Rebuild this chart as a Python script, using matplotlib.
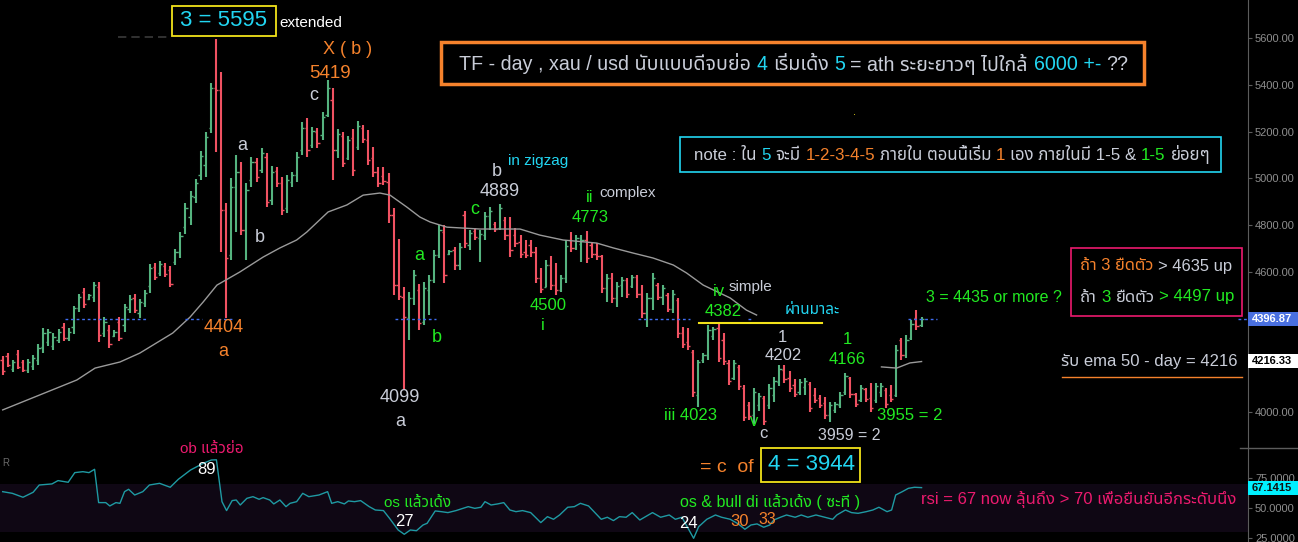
import numpy as np
import matplotlib
matplotlib.use("Agg")
import matplotlib.pyplot as plt
from matplotlib import font_manager, transforms
from matplotlib.ft2font import FT2Font
from matplotlib.patches import Rectangle
from matplotlib.lines import Line2D
from matplotlib.ticker import FormatStrFormatter

W, H = 1298, 542

# daily bars
opens = np.array([
    4223, 4240, 4184, 4248, 4214, 4180, 4197, 4223, 4278, 4300,
    4282, 4308, 4364, 4317, 4364, 4445, 4513, 4483, 4492, 4535,
    4338, 4351, 4325, 4385, 4372, 4441, 4488, 4424, 4466, 4539,
    4620, 4595, 4625, 4608, 4642, 4685, 4791, 4834, 4920, 5014,
    5057, 5215, 5386, 5378, 4864, 4672, 4963, 5027, 4779, 4993,
    5070, 5035, 5091, 4907, 5031, 4980, 4873, 4984, 5014, 5121,
    5215, 5142, 5198, 5185, 5271, 5335, 5121, 5181, 5087, 5172,
    5134, 5215, 5164, 5087, 5027, 5010, 4984, 4843, 4543, 4492,
    4402, 4488, 4522, 4385, 4522, 4565, 4672, 4770, 4676, 4693,
    4629, 4843, 4714, 4774, 4744, 4757, 4839, 4804, 4787, 4821,
    4757, 4757, 4727, 4685, 4714, 4685, 4573, 4535, 4629, 4543,
    4522, 4573, 4736, 4702, 4719, 4736, 4714, 4676, 4667, 4531,
    4573, 4488, 4543, 4565, 4539, 4578, 4505, 4424, 4488, 4543,
    4492, 4501, 4441, 4479, 4338, 4300, 4257, 4073, 4223, 4244,
    4325, 4359, 4308, 4210, 4145, 4193, 4103, 4030, 3987, 4030,
    4060, 4030, 4073, 4128, 4180, 4145, 4116, 4086, 4107, 4120,
    4073, 4060, 4039, 3987, 4009, 4030, 4086, 4145, 4077, 4051,
    4099, 4060, 4051, 4086, 4094, 4073, 4073, 4308, 4244, 4317,
    4402, 4372])
highs = np.array([
    4240, 4252, 4223, 4265, 4223, 4227, 4244, 4291, 4359, 4355,
    4338, 4355, 4381, 4359, 4454, 4505, 4531, 4505, 4556, 4556,
    4406, 4372, 4351, 4406, 4462, 4501, 4505, 4483, 4522, 4633,
    4637, 4646, 4637, 4625, 4697, 4770, 4894, 4946, 4997, 5117,
    5198, 5407, 5595, 5455, 4894, 5001, 5100, 5070, 4980, 5091,
    5087, 5130, 5108, 5052, 5048, 5005, 5014, 5027, 5112, 5241,
    5258, 5219, 5215, 5283, 5419, 5386, 5211, 5198, 5181, 5211,
    5245, 5228, 5206, 5134, 5048, 5048, 5022, 4873, 4740, 4535,
    4513, 4608, 4548, 4556, 4586, 4693, 4800, 4800, 4693, 4706,
    4723, 4860, 4779, 4787, 4779, 4856, 4877, 4813, 4889, 4834,
    4834, 4787, 4757, 4736, 4736, 4706, 4616, 4650, 4667, 4637,
    4586, 4736, 4770, 4757, 4757, 4773, 4727, 4723, 4672, 4590,
    4595, 4556, 4578, 4573, 4586, 4586, 4543, 4509, 4595, 4552,
    4543, 4509, 4522, 4488, 4364, 4359, 4265, 4223, 4252, 4372,
    4364, 4382, 4338, 4223, 4223, 4201, 4116, 4043, 4103, 4081,
    4069, 4120, 4150, 4202, 4201, 4175, 4141, 4141, 4145, 4128,
    4103, 4073, 4064, 4043, 4043, 4086, 4166, 4150, 4081, 4116,
    4103, 4124, 4124, 4124, 4103, 4116, 4287, 4317, 4329, 4394,
    4436, 4406])
lows = np.array([
    4158, 4193, 4171, 4184, 4171, 4167, 4180, 4201, 4252, 4282,
    4265, 4295, 4304, 4304, 4334, 4428, 4445, 4479, 4471, 4300,
    4321, 4274, 4321, 4304, 4342, 4424, 4424, 4402, 4449, 4509,
    4565, 4582, 4578, 4535, 4629, 4659, 4762, 4800, 4894, 4993,
    5005, 5194, 5112, 4685, 4404, 4650, 4770, 4757, 4650, 4963,
    4984, 5022, 4877, 4886, 4963, 4843, 4851, 4963, 4984, 5100,
    5091, 5130, 5130, 5164, 5262, 4993, 5087, 5048, 5078, 5010,
    5121, 5151, 5057, 5005, 4963, 4971, 4809, 4501, 4479, 4099,
    4308, 4458, 4351, 4372, 4415, 4552, 4659, 4552, 4672, 4608,
    4608, 4702, 4693, 4736, 4642, 4736, 4779, 4770, 4779, 4736,
    4663, 4706, 4659, 4659, 4663, 4552, 4509, 4535, 4522, 4500,
    4513, 4552, 4685, 4693, 4642, 4637, 4659, 4650, 4509, 4471,
    4466, 4449, 4492, 4488, 4531, 4488, 4402, 4364, 4436, 4479,
    4458, 4428, 4424, 4317, 4274, 4265, 4064, 4023, 4210, 4223,
    4308, 4214, 4201, 4116, 4137, 4094, 3962, 3966, 3949, 4004,
    3944, 4013, 4043, 4111, 4124, 4086, 4064, 4073, 4073, 4000,
    4039, 4017, 3970, 3959, 3996, 4017, 4073, 4060, 4022, 4043,
    4043, 4000, 4039, 4064, 4017, 4043, 4064, 4223, 4231, 4308,
    4351, 4364])
closes = np.array([
    4175, 4201, 4214, 4193, 4180, 4214, 4231, 4274, 4338, 4342,
    4321, 4342, 4317, 4342, 4445, 4492, 4462, 4501, 4543, 4329,
    4385, 4291, 4342, 4317, 4449, 4483, 4436, 4471, 4509, 4616,
    4578, 4633, 4590, 4548, 4685, 4753, 4873, 4924, 4980, 5095,
    5177, 5386, 5378, 4864, 4659, 4963, 5027, 4779, 4950, 5070,
    5005, 5108, 4898, 5027, 4980, 4864, 4993, 5014, 5091, 5215,
    5121, 5202, 5151, 5262, 5386, 5121, 5189, 5065, 5164, 5035,
    5224, 5168, 5078, 5027, 4980, 4988, 4843, 4543, 4496, 4406,
    4488, 4586, 4381, 4531, 4565, 4672, 4779, 4586, 4689, 4629,
    4706, 4723, 4766, 4749, 4762, 4839, 4860, 4783, 4873, 4757,
    4693, 4723, 4676, 4672, 4685, 4573, 4526, 4629, 4543, 4522,
    4573, 4710, 4702, 4744, 4736, 4659, 4676, 4667, 4531, 4573,
    4488, 4539, 4565, 4505, 4578, 4505, 4424, 4488, 4573, 4492,
    4531, 4441, 4505, 4338, 4291, 4282, 4086, 4214, 4244, 4351,
    4355, 4231, 4218, 4133, 4210, 4111, 3979, 3983, 4086, 4069,
    3962, 4103, 4133, 4184, 4141, 4103, 4077, 4128, 4133, 4017,
    4051, 4030, 3987, 4030, 4034, 4073, 4154, 4077, 4034, 4103,
    4056, 4017, 4111, 4111, 4034, 4056, 4265, 4244, 4308, 4376,
    4368, 4397])

# ema 50 line as drawn (bar position, price); the chart hides it between the two parts
ema_pos_a = [0, 7.3, 14.6, 18.2, 23.1, 27.0, 33.5, 36.9, 39.5, 42.2, 46.7, 51.3,
             54.6, 57.9, 59.9, 64.1, 67.8, 71.0, 74.3, 76.3, 79.6, 82.2, 84.2,
             87.5, 94.0, 101.9, 105.8, 110.4, 117.0, 120.3, 124.2, 128.1, 132.1,
             134.7, 138.0, 143.3, 146.5, 148.5]
ema_val_a = [4009, 4073, 4137, 4188, 4214, 4252, 4338, 4406, 4471, 4543, 4599, 4663,
             4702, 4736, 4770, 4856, 4886, 4928, 4937, 4928, 4877, 4834, 4813,
             4791, 4783, 4783, 4757, 4736, 4723, 4702, 4680, 4659, 4629,
             4595, 4543, 4488, 4436, 4415]
ema_pos_b = [173.1, 176.1, 178.7, 181.0]
ema_val_b = [4193, 4188, 4210, 4216]

# rsi line (bar position, value)
rsi_pos = [0, 1.9, 4.0, 6.0, 7.2, 9.7, 10.9, 12.9, 14.2, 15.8, 17.0, 18.1, 18.9,
           20.3, 21.1, 22.3, 23.1, 24.0, 24.8, 26.0, 27.6, 28.9, 30.9, 33.0, 34.6,
           37.0, 39.5, 41.1, 42.1, 43.2, 44.1, 45.2, 46.0, 46.8, 48.1, 49.3, 50.5,
           51.3, 52.6, 53.4, 54.6, 55.8, 56.6, 57.9, 59.1, 60.3, 62.3, 64.0, 64.8,
           66.0, 67.3, 68.1, 69.3, 70.5, 72.2, 73.4, 75.0, 76.2, 77.9, 79.1, 80.3,
           81.5, 82.8, 83.6, 85.2, 86.4, 87.7, 89.3, 91.7, 93.0, 94.2, 95.0, 96.2,
           97.5, 98.7, 99.9, 101.1, 102.4, 104.0, 106.0, 107.3, 108.5, 109.7, 111.3,
           112.6, 113.8, 115.4, 117.9, 119.1, 120.3, 121.5, 122.8, 124.0, 125.5,
           128.0, 129.6, 131.3, 132.5, 133.8, 135.0, 136.1, 137.1, 138.7, 140.4,
           141.6, 143.3, 144.9, 146.2, 147.4, 148.6, 149.9, 151.1, 151.9, 153.2,
           154.4, 156.1, 157.3, 158.6, 160.2, 161.9, 163.5, 164.3, 166.0, 167.2,
           168.5, 170.1, 171.4, 172.6, 174.2, 175.1, 175.9, 177.2, 178.4, 179.6, 181.0]
rsi_val = [63.7, 62.3, 59.0, 63.2, 69.3, 70.2, 73.0, 71.6, 79.7, 80.5, 79.7, 82.5, 54.5,
           54.5, 51.7, 54.5, 53.9, 63.7, 65.7, 60.9, 63.7, 69.3, 70.7, 67.4, 74.1,
           81.9, 87.5, 90.3, 90.5, 55.3, 47.8, 56.2, 56.7, 52.5, 58.1, 59.5, 57.3,
           58.7, 56.7, 53.4, 56.7, 51.1, 53.9, 55.3, 62.3, 59.5, 60.9, 63.7, 53.9,
           55.3, 53.4, 55.9, 55.3, 56.2, 51.1, 48.3, 47.8, 41.3, 31.5, 27.9, 31.5,
           30.9, 35.7, 37.1, 47.5, 46.9, 46.1, 47.8, 51.1, 49.7, 50.6, 55.3, 52.5,
           53.4, 54.5, 48.3, 46.9, 47.8, 46.1, 37.7, 42.7, 40.5, 44.1, 50.6,
           51.1, 53.9, 51.7, 40.5, 42.2, 39.4, 42.7, 42.2, 46.1, 39.9,
           46.1, 42.2, 44.1, 40.5, 42.2, 32.9, 24.5, 34.3, 40.5, 44.1,
           42.2, 40.5, 36.6, 32.1, 35.7, 36.6, 33.8, 35.7, 39.9, 42.2,
           44.1, 42.2, 44.1, 42.2, 44.1, 42.2, 40.5, 44.1, 48.3, 46.1,
           45.5, 46.9, 48.3, 50.6, 46.9, 48.3, 60.9, 63.7, 66.5, 67.4, 67.1]

last_price = 4396.87
ema_now = 4216.33
rsi_now = 67.1415
# 4200 / 4400 sit under the value labels on the scale
price_ticks = [4000, 4600, 4800, 5000, 5200, 5400, 5600]
rsi_ticks = [25, 50, 75]
# dotted price line is only visible in these stretches (bar positions)
dot_spans = [(12.3, 28.6), (35.9, 39.3), (42.4, 45.4), (77.3, 85.3), (125.1, 135.4),
             (146.8, 147.6), (178.3, 184.0), (243.3, 245.3)]
wave_iv_level = 4382

GREEN = '#55b37f'
RED = '#f05262'
GRAY_TXT = '#c9cdd8'
CYAN = '#22d6f2'
ORANGE = '#f5822c'
LIME = '#22ea22'
PINK = '#ec1a6e'
YELLOW = '#f2e21a'


def find_thai_font():
    names = []
    for f in font_manager.fontManager.ttflist:
        try:
            cmap = FT2Font(f.fname).get_charmap()
        except Exception:
            continue
        if 0x0E01 in cmap and 0x0E40 in cmap:
            names.append(f.name)
    if not names:
        return None
    for pref in ['Noto Sans Thai', 'Noto Sans Thai UI', 'Loma', 'Garuda', 'Waree', 'Umpush']:
        if pref in names:
            return pref
    return names[0]


thai = find_thai_font()
fam = ['Liberation Sans'] + ([thai] if thai else [])

fig = plt.figure(figsize=(W / 100, H / 100), dpi=100, facecolor='black')
ax = fig.add_axes([0, 94 / H, 1248 / W, 448 / H])
rx = fig.add_axes([0, 0, 1248 / W, 94 / H])
pix = transforms.Affine2D().scale(1, -1).translate(0, H)

# price bars
idx = np.arange(len(closes))
cols = np.where(closes >= opens, GREEN, RED)
ax.vlines(idx, lows, highs, colors=cols, lw=1.5)
ax.hlines(opens, idx - 0.45, idx, colors=cols, lw=1)
ax.hlines(closes, idx, idx + 0.45, colors=cols, lw=1)
ax.plot(ema_pos_a, ema_val_a, color='#9a9a9a', lw=1)
ax.plot(ema_pos_b, ema_val_b, color='#9a9a9a', lw=1)
for a, b in dot_spans:
    ax.plot([a, b], [last_price, last_price], color='#3f6ef2', lw=1, ls=(0, (2, 2)))
ax.plot([137.1, 161.4], [wave_iv_level, wave_iv_level], color=YELLOW, lw=1.5)

for a in (ax, rx):
    a.set_facecolor('black')
    a.set_xlim(-0.53, 245.3)
    a.set_xticks([])
    for s in ('top', 'left', 'bottom'):
        a.spines[s].set_visible(False)
    a.spines['right'].set_color('#5c5c5c')
    a.yaxis.tick_right()
    a.tick_params(axis='y', colors='#5c5c5c', labelcolor='#8e8e8e', labelsize=8,
                  length=3, pad=2)

ax.set_ylim(3846, 5763)
ax.set_yticks(price_ticks)
ax.yaxis.set_major_formatter(FormatStrFormatter('%.2f'))

# rsi panel
rx.axhspan(30, 70, color='#0f0714', lw=0)
rx.plot(rsi_pos, rsi_val, color='#1f9aa3', lw=1)
rx.set_ylim(21.4, 100.4)
rx.set_yticks(rsi_ticks)
rx.yaxis.set_major_formatter(FormatStrFormatter('%.4f'))
for a in (ax, rx):
    for lab in a.get_yticklabels():
        lab.set_family('Liberation Sans')

renderer = fig.canvas.get_renderer()


def put(x, y, s, color, size, ha='center', **kw):
    return fig.text(x, y, s, color=color, fontsize=size, ha=ha, va='center',
                    family=fam, transform=pix, **kw)


def space_width(size):
    t1 = put(0, -50, 'x x', 'k', size)
    t2 = put(0, -50, 'xx', 'k', size)
    w = t1.get_window_extent(renderer).width - t2.get_window_extent(renderer).width
    t1.remove()
    t2.remove()
    return w


def rich(x, y, parts, size, right=None):
    # draws coloured pieces one after another; with right= the size is fitted to the width
    def draw(sz):
        sw = space_width(sz)
        cx = x
        made = []
        for s, c in parts:
            core = s.strip(' ')
            lead = len(s) - len(s.lstrip(' '))
            trail = len(s) - len(s.rstrip(' '))
            cx += lead * sw
            t = put(cx, y, core, c, sz, ha='left')
            made.append(t)
            cx = t.get_window_extent(renderer).x1 + trail * sw
        return made, cx

    made, end = draw(size)
    if right is not None:
        for t in made:
            t.remove()
        made, end = draw(size * (right - x) / (end - x))


def box(x0, y0, x1, y1, color, lw):
    fig.add_artist(Rectangle((x0, y0), x1 - x0, y1 - y0, transform=pix, fill=False,
                             edgecolor=color, lw=lw))


def hline_px(x0, x1, y, color, lw, **kw):
    fig.add_artist(Line2D([x0, x1], [y, y], transform=pix, color=color, lw=lw, **kw))


def data_y(a, v):
    return H - a.transData.transform((0, v))[1]


# top headline box
box(441, 42, 1144, 84, ORANGE, 2.5)
rich(459, 64, [('TF - day , xau / usd นับแบบดีจบย่อ ', GRAY_TXT), ('4 ', CYAN),
               ('เริ่มเด้ง ', GRAY_TXT), ('5', CYAN), (' = ath ระยะยาวๆ ไปใกล้ ', GRAY_TXT),
               ('6000 +-', CYAN), (' ??', GRAY_TXT)], 14, right=1128)

box(680, 137, 1221, 172, CYAN, 1.2)
rich(694, 155, [('note : ใน ', GRAY_TXT), ('5', CYAN), (' จะมี ', GRAY_TXT),
                ('1-2-3-4-5', ORANGE), (' ภายใน ตอนนี้เริ่ม ', GRAY_TXT), ('1', ORANGE),
                (' เอง ภายในมี 1-5 & ', GRAY_TXT), ('1-5', LIME), (' ย่อยๆ', GRAY_TXT)],
     12, right=1208)

box(1071, 248, 1242, 316, PINK, 1.2)
rich(1080, 266, [('ถ้า 3 ยืดตัว', ORANGE), (' > 4635 up', GRAY_TXT)], 11.5, right=1232)
rich(1080, 297, [('ถ้า ', GRAY_TXT), ('3', LIME), (' ยืดตัว ', GRAY_TXT),
                 ('> 4497 up', LIME)], 11.5, right=1234)
put(926, 297, '3 = 4435 or more ?', LIME, 11.5, ha='left')
put(1061, 361, 'รับ ema 50 - day = 4216', GRAY_TXT, 12, ha='left')
hline_px(1062, 1242, 377, ORANGE, 1)

# wave labels
box(172, 6, 276, 36, YELLOW, 1.3)
put(224, 21, '3 = 5595', CYAN, 16)
put(279, 23, 'extended', 'white', 11, ha='left')
put(348, 49, 'X ( b )', ORANGE, 13)
put(330, 73, '5419', ORANGE, 13.5)
put(314, 95, 'c', GRAY_TXT, 13)
put(242, 146, 'a', GRAY_TXT, 13)
put(260, 237, 'b', GRAY_TXT, 13)
put(224, 328, '4404', ORANGE, 13)
put(223, 352, 'a', ORANGE, 13)
put(400, 398, '4099', GRAY_TXT, 13)
put(400, 421, 'a', GRAY_TXT, 13)
put(419, 256, 'a', LIME, 13)
put(437, 337, 'b', LIME, 13)
put(475, 210, 'c', LIME, 13)
put(497, 172, 'b', GRAY_TXT, 13)
put(500, 192, '4889', GRAY_TXT, 13)
put(508, 161, 'in zigzag', CYAN, 11, ha='left')
put(590, 198, 'ii', LIME, 12)
put(599, 193, 'complex', GRAY_TXT, 11, ha='left')
put(590, 218, '4773', LIME, 12)
put(548, 306, '4500', LIME, 12)
put(543, 325, 'i', LIME, 12)
put(719, 292, 'iv', LIME, 12)
put(729, 287, 'simple', GRAY_TXT, 11, ha='left')
put(723, 311, '4382', LIME, 12)
put(812, 310, 'ผ่านมาละ', CYAN, 11)
put(782, 337, '1', GRAY_TXT, 12)
put(783, 356, '4202', GRAY_TXT, 12)
put(847, 340, '1', LIME, 12)
put(847, 360, '4166', LIME, 12)
put(690, 415, 'iii 4023', LIME, 12)
put(754, 421, 'v', LIME, 12)
put(763, 434, 'c', GRAY_TXT, 12)
put(849, 436, '3959 = 2', GRAY_TXT, 11.5)
put(910, 415, '3955 = 2', LIME, 12)
put(700, 467, '= c  of', ORANGE, 14, ha='left')
box(761, 448, 860, 482, YELLOW, 1.3)
put(811, 465, '4 = 3944', CYAN, 16)
put(855, 112, '.', YELLOW, 8)

# rsi notes
put(212, 449, 'ob แล้วย่อ', PINK, 11)
put(207, 470, '89', 'white', 12)
put(417, 503, 'os แล้วเด้ง', LIME, 11)
put(404, 522, '27', 'white', 12)
put(770, 502, 'os & bull di แล้วเด้ง ( ซะที )', LIME, 11.5)
put(688, 524, '24', 'white', 12)
put(740, 521, '30', ORANGE, 12)
put(767, 519, '33', ORANGE, 11.5)
put(921, 500, 'rsi = 67 now ลุ้นถึง > 70 เพื่อยืนยันอีกระดับนึง', PINK, 12, ha='left')

# faint leftovers of the chart legend
hline_px(118, 167, 37, '#3a3a3a', 1.2, ls=(0, (5, 3)))
put(6, 463, 'R', '#6a6a6a', 7)

# panel separator on the price scale
hline_px(1240, 1298, 448, '#5c5c5c', 1)

# last value labels on the scales
for a, v, fc, tc, txt in [(ax, last_price, '#4a70e0', 'white', '4396.87'),
                          (ax, ema_now, 'white', 'black', '4216.33'),
                          (rx, rsi_now, '#00f0ff', '#101010', '67.1415')]:
    yy = data_y(a, v)
    fig.add_artist(Rectangle((1248, yy - 7), 50, 14, transform=pix, facecolor=fc,
                             edgecolor='none'))
    fig.text(1252, yy, txt, color=tc, fontsize=8, ha='left', va='center',
             family='Liberation Sans', transform=pix, fontweight='bold')

fig.savefig('out.png', dpi=100, facecolor='black')
